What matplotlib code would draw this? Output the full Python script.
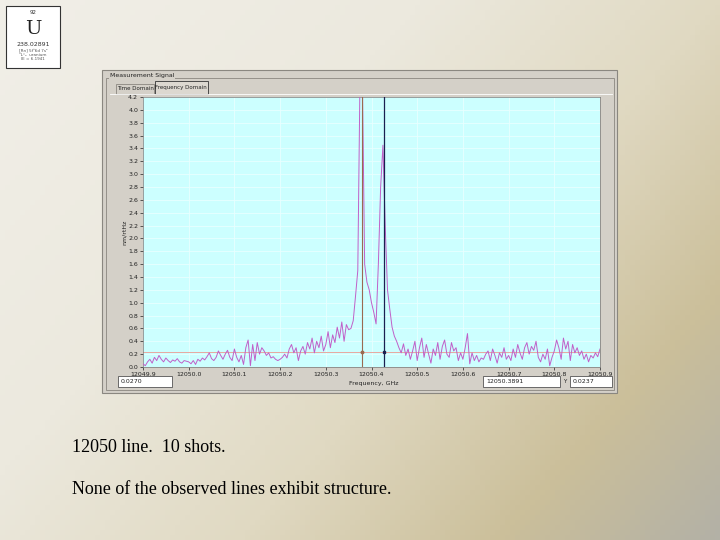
import numpy as np
import matplotlib
matplotlib.use('Agg')
import matplotlib.pyplot as plt
from matplotlib.colors import LinearSegmentedColormap
import matplotlib.patches as mpatches

# ---------------- data ----------------
freq_start = 12049.9
freq_step = 0.005
amplitude = [
    0.05, 0.02, 0.08, 0.12, 0.06, 0.15, 0.10, 0.18, 0.12, 0.08, 0.14, 0.10, 0.07, 0.11, 0.09, 0.13, 0.08, 0.06, 0.10, 0.09,
    0.08, 0.05, 0.10, 0.04, 0.12, 0.09, 0.14, 0.11, 0.16, 0.22, 0.13, 0.10, 0.15, 0.25, 0.18, 0.12, 0.20, 0.26, 0.15, 0.10,
    0.28, 0.15, 0.08, 0.18, 0.04, 0.30, 0.42, 0.02, 0.35, 0.10, 0.38, 0.20, 0.30, 0.25, 0.18, 0.22, 0.14, 0.16, 0.12, 0.10,
    0.12, 0.15, 0.20, 0.14, 0.28, 0.35, 0.22, 0.30, 0.10, 0.25, 0.32, 0.20, 0.38, 0.28, 0.45, 0.22, 0.40, 0.30, 0.48, 0.25,
    0.35, 0.55, 0.30, 0.50, 0.38, 0.62, 0.45, 0.70, 0.40, 0.66, 0.58, 0.60, 0.72, 1.10, 1.50, 4.60, 4.50, 1.60, 1.32, 1.20,
    1.00, 0.85, 0.67, 1.60, 2.80, 3.45, 2.20, 1.20, 0.90, 0.62, 0.48, 0.40, 0.30, 0.22, 0.36, 0.18, 0.28, 0.12, 0.25, 0.40,
    0.10, 0.30, 0.45, 0.15, 0.35, 0.20, 0.06, 0.28, 0.18, 0.38, 0.12, 0.32, 0.42, 0.20, 0.15, 0.38, 0.25, 0.30, 0.10, 0.22,
    0.12, 0.30, 0.52, 0.05, 0.22, 0.10, 0.18, 0.08, 0.14, 0.12, 0.20, 0.25, 0.10, 0.28, 0.18, 0.06, 0.22, 0.15, 0.30, 0.12,
    0.18, 0.10, 0.28, 0.15, 0.35, 0.22, 0.12, 0.30, 0.38, 0.20, 0.32, 0.26, 0.40, 0.15, 0.08, 0.20, 0.12, 0.28, 0.02, 0.15,
    0.25, 0.42, 0.30, 0.12, 0.45, 0.28, 0.40, 0.10, 0.35, 0.22, 0.30, 0.18, 0.25, 0.12, 0.20, 0.08, 0.18, 0.14, 0.22, 0.16, 0.28,
]
freq = freq_start + freq_step * np.arange(len(amplitude))

x_ticks = [12049.9, 12050.0, 12050.1, 12050.2, 12050.3, 12050.4, 12050.5, 12050.6, 12050.7, 12050.8, 12050.9]
x_tick_labels = ['12049.9', '12050.0', '12050.1', '12050.2', '12050.3', '12050.4',
                 '12050.5', '12050.6', '12050.7', '12050.8', '12050.9']
y_ticks = [0.0, 0.2, 0.4, 0.6, 0.8, 1.0, 1.2, 1.4, 1.6, 1.8, 2.0, 2.2, 2.4, 2.6, 2.8, 3.0,
           3.2, 3.4, 3.6, 3.8, 4.0, 4.2]
y_tick_labels = ['%.1f' % v for v in y_ticks]

cursor_1 = 12050.379
cursor_2 = 12050.427
cursor_level = 0.24

# ---------------- figure ----------------
W, H = 720, 540
fig = plt.figure(figsize=(7.2, 5.4), dpi=100)

def fa(x, y, w, h):
    return [x / W, 1 - (y + h) / H, w / W, h / H]

bg = fig.add_axes([0, 0, 1, 1])
bg.set_xlim(0, W)
bg.set_ylim(H, 0)
bg.axis('off')

# slide gradient
gx, gy = np.meshgrid(np.linspace(0, 1, 144), np.linspace(0, 1, 108))
t = 0.6 * gx + 0.4 * gy
cmap = LinearSegmentedColormap.from_list('slide', [
    (0.0, '#f1efe8'), (0.35, '#ecE9de'), (0.6, '#e0d9c2'),
    (0.82, '#cbbf9a'), (1.0, '#b3b1a6')])
bg.imshow(t, cmap=cmap, vmin=0, vmax=1, extent=[0, W, H, 0], aspect='auto', zorder=0)

# element box
bg.add_patch(mpatches.Rectangle((6, 6), 54, 62, facecolor='white', edgecolor='#333333', lw=0.8, zorder=2))
bg.text(33, 13, '92', fontsize=4, ha='center', va='center', color='#333333', zorder=3)
bg.text(33, 29, 'U', fontsize=14, ha='center', va='center', color='#222222', zorder=3,
        family='DejaVu Serif')
bg.text(33, 44, '238.02891', fontsize=4.5, ha='center', va='center', color='#333333', zorder=3)
bg.text(33, 51, '[Rn] 5f³6d 7s²', fontsize=3, ha='center', va='center', color='#555555', zorder=3)
bg.text(33, 55, '⁵L°₆  uranium', fontsize=3, ha='center', va='center', color='#555555', zorder=3)
bg.text(33, 59, 'IE = 6.1941', fontsize=3, ha='center', va='center', color='#555555', zorder=3)

# LabVIEW panel
bg.add_patch(mpatches.Rectangle((102, 70), 515, 323, facecolor='#d4d0c8', edgecolor='#8a8780', lw=0.8, zorder=2))
bg.add_patch(mpatches.Rectangle((106, 78), 508, 312, facecolor='none', edgecolor='#8a8780', lw=0.6, zorder=3))
bg.text(110, 76, 'Measurement Signal', fontsize=4.5, ha='left', va='center', color='#222222', zorder=4,
        bbox=dict(facecolor='#d4d0c8', edgecolor='none', pad=0.5))
# tabs
bg.add_patch(mpatches.Rectangle((116, 84), 38, 10, facecolor='#d4d0c8', edgecolor='#8a8780', lw=0.6, zorder=3))
bg.text(135, 89, 'Time Domain', fontsize=4, ha='center', va='center', color='#222222', zorder=4)
bg.add_patch(mpatches.Rectangle((155, 81), 53, 13, facecolor='#dcd8d0', edgecolor='#333333', lw=0.6, zorder=3))
bg.text(181, 88, 'Frequency Domain', fontsize=4, ha='center', va='center', color='#222222', zorder=4)
bg.plot([110, 612], [94, 94], color='#ffffff', lw=0.6, zorder=3)

# value boxes
bg.add_patch(mpatches.Rectangle((118, 376), 54, 11, facecolor='white', edgecolor='#555555', lw=0.6, zorder=3))
bg.text(121, 381.5, '0.0270', fontsize=4.5, ha='left', va='center', color='#222222', zorder=4)
bg.add_patch(mpatches.Rectangle((483, 376), 77, 11, facecolor='white', edgecolor='#555555', lw=0.6, zorder=3))
bg.text(486, 381.5, '12050.3891', fontsize=4.5, ha='left', va='center', color='#222222', zorder=4)
bg.text(565, 381.5, 'Y', fontsize=4, ha='center', va='center', color='#222222', zorder=4)
bg.add_patch(mpatches.Rectangle((570, 376), 42, 11, facecolor='white', edgecolor='#555555', lw=0.6, zorder=3))
bg.text(573, 381.5, '0.0237', fontsize=4.5, ha='left', va='center', color='#222222', zorder=4)
bg.text(374, 383, 'Frequency, GHz', fontsize=4.5, ha='center', va='center', color='#222222', zorder=4)
bg.text(124, 232, 'nm/rtHz', fontsize=4.5, ha='center', va='center', rotation=90, color='#222222', zorder=4)

# slide text
bg.text(72, 447, '12050 line.  10 shots.', fontsize=13, family='Liberation Serif',
        ha='left', va='center', color='black', zorder=4)
bg.text(72, 490, 'None of the observed lines exhibit structure.', fontsize=13, family='Liberation Serif',
        ha='left', va='center', color='black', zorder=4)

# plot
ax = fig.add_axes(fa(143, 97, 457, 270))
ax.set_facecolor('#ccffff')
ax.set_xlim(x_ticks[0], x_ticks[-1])
ax.set_ylim(y_ticks[0], y_ticks[-1])
ax.set_xticks(x_ticks)
ax.set_xticklabels(x_tick_labels)
ax.set_yticks(y_ticks)
ax.set_yticklabels(y_tick_labels)
ax.tick_params(axis='both', labelsize=4.5, colors='#222222', length=2, width=0.5, pad=1.5)
ax.grid(True, color='#e8ffff', lw=0.6)
for s in ax.spines.values():
    s.set_color('#777777')
    s.set_linewidth(0.5)

ax.plot(freq, amplitude, color='#c060c8', lw=0.7, zorder=3)
ax.axhline(cursor_level, color='#e8a8a0', lw=0.7, zorder=2)
ax.axvline(cursor_1, color='#9a6a50', lw=0.8, zorder=4)
ax.axvline(cursor_2, color='#1a2050', lw=0.9, zorder=4)
ax.plot([cursor_1], [cursor_level], marker='o', ms=1.8, color='#9a6a50', zorder=5)
ax.plot([cursor_2], [cursor_level], marker='s', ms=2, color='#1a2050', zorder=5)

fig.savefig('out.png', dpi=100)
